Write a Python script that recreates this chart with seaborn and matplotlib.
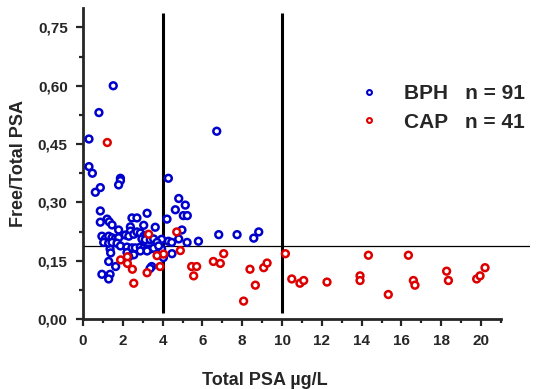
import matplotlib
matplotlib.use("Agg")
import matplotlib.pyplot as plt
import seaborn as sns
import pandas as pd
from matplotlib.lines import Line2D
from matplotlib.ticker import FuncFormatter

# values
bph_total = [1.52, 0.80, 0.30, 0.30, 0.47, 0.87, 0.62, 1.88, 1.88, 1.79,
             6.72, 4.29, 4.81, 5.14, 4.64, 5.04, 5.24, 4.22, 4.97, 4.81,
             5.23, 5.80, 6.82, 7.74, 8.58, 8.83, 4.47, 4.04, 4.29, 4.46,
             3.95, 3.95, 0.87, 0.87, 1.21, 1.32, 1.46, 1.79, 2.46, 2.71,
             3.22, 3.05, 2.38, 3.63, 2.38, 0.95, 1.36, 1.29, 1.64, 1.29,
             3.45, 3.37, 2.55, 1.36, 1.39, 0.95, 1.12, 1.29, 1.46, 1.62,
             1.79, 1.04, 1.29, 1.46, 1.71, 1.88, 2.13, 2.30, 2.55, 2.71,
             2.88, 3.05, 3.22, 2.96, 3.13, 3.38, 3.55, 3.72, 2.21, 2.46,
             2.63, 2.88, 3.05, 3.22, 3.38, 3.55, 3.80, 2.21, 2.30, 2.88,
             3.22]
bph_ratio = [0.600, 0.531, 0.463, 0.392, 0.375, 0.338, 0.326, 0.362, 0.356, 0.345,
             0.483, 0.362, 0.310, 0.293, 0.281, 0.266, 0.266, 0.257, 0.229, 0.206,
             0.197, 0.200, 0.217, 0.217, 0.208, 0.224, 0.168, 0.158, 0.200, 0.197,
             0.205, 0.180, 0.278, 0.249, 0.257, 0.250, 0.242, 0.229, 0.260, 0.260,
             0.272, 0.241, 0.237, 0.236, 0.226, 0.115, 0.115, 0.103, 0.135, 0.148,
             0.135, 0.130, 0.165, 0.180, 0.170, 0.213, 0.206, 0.213, 0.209, 0.206,
             0.209, 0.197, 0.195, 0.197, 0.195, 0.188, 0.216, 0.213, 0.218, 0.224,
             0.221, 0.213, 0.216, 0.206, 0.204, 0.204, 0.206, 0.197, 0.185, 0.183,
             0.183, 0.185, 0.182, 0.180, 0.180, 0.182, 0.188, 0.171, 0.160, 0.175,
             0.175]

cap_total = [10.17, 10.49, 10.90, 11.09, 12.26, 13.92, 13.92, 14.34, 15.34, 16.35,
             16.60, 16.68, 18.27, 18.36, 19.78, 19.95, 20.20,
             4.05, 4.71, 4.89, 5.46, 5.71, 5.56, 6.55, 6.90, 7.07, 8.07,
             8.39, 8.66, 9.08, 9.25,
             1.22, 1.89, 2.23, 2.23, 2.48, 2.55, 3.22, 3.30, 3.72, 3.87]
cap_ratio = [0.168, 0.103, 0.092, 0.099, 0.095, 0.111, 0.099, 0.164, 0.063, 0.164,
             0.099, 0.087, 0.123, 0.099, 0.103, 0.111, 0.132,
             0.167, 0.224, 0.176, 0.135, 0.135, 0.111, 0.148, 0.143, 0.168, 0.046,
             0.128, 0.087, 0.132, 0.144,
             0.454, 0.152, 0.160, 0.143, 0.128, 0.092, 0.119, 0.218, 0.163, 0.135]

groups = ["BPH", "CAP"]
group_n = [91, 41]
colors = {"BPH": "#0000CC", "CAP": "#DD0000"}
cutoffs_total = [4, 10]
cutoff_ratio = 0.188

df = pd.DataFrame({
    "total": bph_total + cap_total,
    "ratio": bph_ratio + cap_ratio,
    "group": ["BPH"] * len(bph_total) + ["CAP"] * len(cap_total),
})

sns.set_style("ticks")
plt.rcParams["font.family"] = ["Liberation Sans", "DejaVu Sans"]
plt.rcParams["font.weight"] = "bold"

W, H = 537, 389
fig = plt.figure(figsize=(W / 100, H / 100), dpi=100)
ax = fig.add_axes([83 / W, 1 - 319 / H, (530 - 83) / W, (319 - 8) / H])

sns.scatterplot(data=df, x="total", y="ratio", hue="group", palette=colors,
                s=24, linewidth=1.8, legend=False, ax=ax, zorder=3)
coll = ax.collections[0]
coll.set_edgecolors(coll.get_facecolors())
coll.set_facecolors("white")

ax.vlines(cutoffs_total, 0.015, 0.787, color="black", lw=2.2, zorder=2)
ax.hlines(cutoff_ratio, 0, 22.5, color="black", lw=0.9, zorder=2)

ax.set_xlim(0, 22.46)
ax.set_ylim(0, 0.80)
sns.despine(ax=ax)
ax.spines["bottom"].set_bounds(0, 21.0)
for s in ("left", "bottom"):
    ax.spines[s].set_linewidth(2)

ax.set_xticks(list(range(0, 22, 2)))
ax.set_xticks(list(range(1, 22, 2)), minor=True)
ax.set_yticks([0, 0.15, 0.30, 0.45, 0.60, 0.75])
ax.set_yticks([0.075, 0.225, 0.375, 0.525, 0.675], minor=True)
ax.yaxis.set_major_formatter(FuncFormatter(lambda v, p: f"{v:.2f}".replace(".", ",")))
ax.tick_params(which="major", length=5, width=1.6, labelsize=11, pad=6)
ax.tick_params(which="minor", length=3, width=1.6)
for lab in ax.get_xticklabels() + ax.get_yticklabels():
    lab.set_fontweight("bold")

ax.set_xlabel("Total PSA µg/L", fontsize=13, fontweight="bold")
ax.set_ylabel("Free/Total PSA", fontsize=13, fontweight="bold")
ax.xaxis.set_label_coords(0.407, -0.17)
ax.yaxis.set_label_coords(-0.125, 0.5)

handles = [Line2D([], [], ls="", marker="o", ms=3.5, mfc="white", mec=colors[g], mew=1.5)
           for g in groups]
labels = [f"{g}   n = {n}" for g, n in zip(groups, group_n)]
ax.legend(handles, labels, loc="upper left", bbox_to_anchor=(350 / W, 1 - 76 / H),
          bbox_transform=fig.transFigure, frameon=False, handlelength=1.0,
          handletextpad=1.2, labelspacing=0.45, borderaxespad=0,
          prop={"size": 15, "weight": "bold"})

fig.savefig("out.png", dpi=100)
